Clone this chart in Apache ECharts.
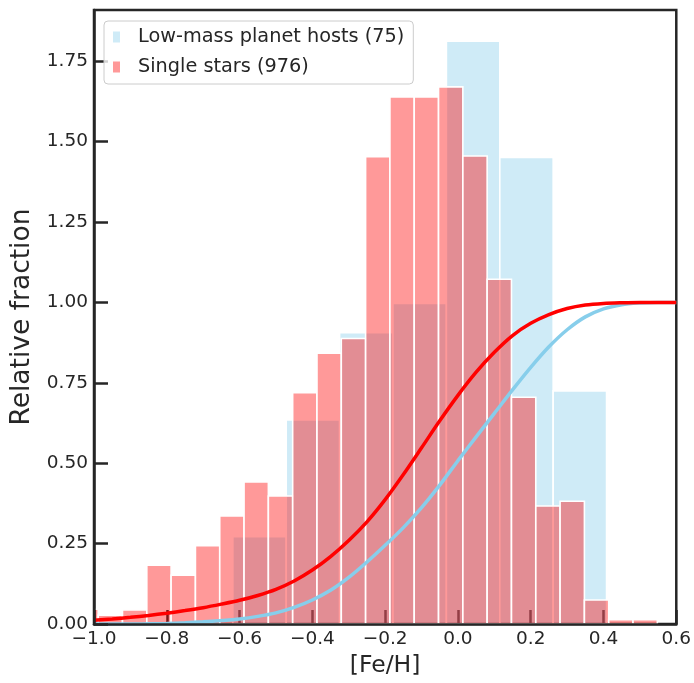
<!DOCTYPE html>
<html>
<head>
<meta charset="utf-8">
<script src="https://cdn.jsdelivr.net/npm/echarts@6/dist/echarts.min.js"></script>
<style>
html,body{margin:0;padding:0;background:#fff;}
#chart{width:694px;height:683px;}
</style>
</head>
<body>
<div id="chart"></div>
<script>
// ---- data ----
const seriesNames = ['Low-mass planet hosts (75)', 'Single stars (976)'];

// Low-mass planet hosts histogram (density)
const hostBinEdges = [-0.6185, -0.4718, -0.3251, -0.1784, -0.0317, 0.1150, 0.2617, 0.4084];
const hostHeights = [0.272, 0.635, 0.906, 0.997, 1.812, 1.451, 0.725];

// Single stars histogram (density)
const singleBinEdges = [-1.0553, -0.9885, -0.9217, -0.8549, -0.7881, -0.7213, -0.6545, -0.5877,
  -0.5209, -0.4541, -0.3873, -0.3205, -0.2537, -0.1869, -0.1201, -0.0533, 0.0135, 0.0803,
  0.1471, 0.2139, 0.2807, 0.3475, 0.4143, 0.4811, 0.5479];
const singleHeights = [0.046, 0.028, 0.044, 0.183, 0.152, 0.244, 0.336, 0.442, 0.398, 0.719,
  0.842, 0.888, 1.453, 1.639, 1.639, 1.670, 1.455, 1.072, 0.705, 0.367, 0.382, 0.075, 0.014, 0.014];

// cumulative curves
const cdfX = [-1.0, -0.95, -0.9, -0.85, -0.8, -0.75, -0.7, -0.65, -0.6, -0.55, -0.5, -0.45, -0.4,
  -0.35, -0.3, -0.25, -0.2, -0.15, -0.1, -0.05, 0.0, 0.05, 0.1, 0.15, 0.2, 0.25, 0.3, 0.35, 0.4,
  0.45, 0.5, 0.55, 0.6];
const singleCdf = [0.012, 0.016, 0.021, 0.027, 0.034, 0.042, 0.051, 0.062, 0.074, 0.089, 0.108,
  0.134, 0.168, 0.21, 0.26, 0.318, 0.387, 0.465, 0.548, 0.632, 0.711, 0.783, 0.845, 0.897, 0.935,
  0.962, 0.981, 0.992, 0.997, 0.999, 1.0, 1.0, 1.0];
const hostCdf = [0.0, 0.0, 0.0, 0.001, 0.002, 0.004, 0.007, 0.011, 0.016, 0.024, 0.035, 0.052,
  0.075, 0.105, 0.145, 0.193, 0.245, 0.30, 0.362, 0.432, 0.508, 0.582, 0.655, 0.728, 0.798, 0.862,
  0.915, 0.955, 0.98, 0.993, 0.998, 1.0, 1.0];

const xMin = -1.0, xMax = 0.6, xStep = 0.2;
const yMin = 0, yMax = 1.909, yStep = 0.25;
const xName = '[Fe/H]';
const yName = 'Relative fraction';

// ---- build ----
function binData(edges, heights) {
  return heights.map((h, i) => [edges[i], edges[i + 1], h]);
}
function pairs(xs, ys) { return xs.map((x, i) => [x, ys[i]]); }

const hostFill = 'rgba(135,206,235,0.4)';
const singleFill = 'rgba(255,0,0,0.4)';
const axisColor = '#262626';
const font = 'DejaVu Sans';

function makeRender(fill) {
  return function (params, api) {
    const x0 = api.value(0), x1 = api.value(1), h = api.value(2);
    const p0 = api.coord([x0, h]);
    const p1 = api.coord([x1, 0]);
    return {
      type: 'rect',
      shape: { x: p0[0], y: p0[1], width: p1[0] - p0[0], height: p1[1] - p0[1] },
      style: { fill: fill, stroke: '#ffffff', lineWidth: 1.6 }
    };
  };
}

const chart = echarts.init(document.getElementById('chart'), null, { renderer: 'canvas' });
const fmtX = v => { if (Math.abs(v) < 1e-9) v = 0; return v.toFixed(1).replace('-', '\u2212'); };

chart.setOption({
  animation: false,
  backgroundColor: '#ffffff',
  grid: { left: 94, right: 17, top: 10, bottom: 53, show: true, borderColor: axisColor, borderWidth: 2.5, containLabel: false },
  legend: {
    orient: 'vertical', left: 104, top: 21,
    padding: [6, 9, 7, 9], itemGap: 10,
    itemWidth: 7, itemHeight: 11,
    backgroundColor: 'rgba(255,255,255,0.8)', borderColor: '#cccccc', borderWidth: 1, borderRadius: 4,
    textStyle: { fontFamily: font, fontSize: 19.3, color: axisColor, lineHeight: 20, padding: [0, 0, 0, 13] },
    data: [
      { name: seriesNames[0], icon: 'rect', itemStyle: { color: hostFill, borderWidth: 0 } },
      { name: seriesNames[1], icon: 'rect', itemStyle: { color: singleFill, borderWidth: 0 } }
    ],
    z: 20
  },
  xAxis: [
    {
      type: 'value', position: 'bottom', min: xMin, max: xMax, interval: xStep,
      name: xName, nameLocation: 'middle', nameGap: 20,
      nameTextStyle: { fontFamily: font, fontSize: 23.5, color: axisColor },
      axisLine: { show: true, onZero: false, lineStyle: { color: axisColor, width: 2.5 } },
      axisTick: { show: false },
      axisLabel: { fontFamily: font, fontSize: 18.5, color: axisColor, margin: 6, formatter: fmtX },
      splitLine: { show: false }, z: 10
    },
    {
      type: 'value', position: 'bottom', min: xMin, max: xMax, interval: xStep,
      axisLine: { show: false, onZero: false },
      axisTick: { show: true, inside: true, length: 14, lineStyle: { color: axisColor, width: 2.5 } },
      axisLabel: { show: false }, splitLine: { show: false }, z: 0
    }
  ],
  yAxis: {
    type: 'value', min: yMin, max: yMax, interval: yStep,
    name: yName, nameLocation: 'middle', nameGap: 49, nameRotate: 90,
    nameTextStyle: { fontFamily: font, fontSize: 26.5, color: axisColor },
    axisLine: { show: true, onZero: false, lineStyle: { color: axisColor, width: 2.5 } },
    axisTick: { show: true, inside: true, length: 14, lineStyle: { color: axisColor, width: 2.5 } },
    axisLabel: { fontFamily: font, fontSize: 18.5, color: axisColor, margin: 6, showMaxLabel: false,
      formatter: v => v.toFixed(2) },
    splitLine: { show: false }, z: 10
  },
  series: [
    { name: seriesNames[0], type: 'custom', xAxisIndex: 0, clip: true, renderItem: makeRender(hostFill),
      data: binData(hostBinEdges, hostHeights), itemStyle: { color: hostFill }, z: 2 },
    { name: seriesNames[1], type: 'custom', xAxisIndex: 0, clip: true, renderItem: makeRender(singleFill),
      data: binData(singleBinEdges, singleHeights), itemStyle: { color: singleFill }, z: 3 },
    { name: 'hostCdf', type: 'line', xAxisIndex: 0, data: pairs(cdfX, hostCdf), smooth: 0.3,
      showSymbol: false,
      lineStyle: { color: '#87ceeb', width: 3.5 }, itemStyle: { color: '#87ceeb' }, z: 4 },
    { name: 'singleCdf', type: 'line', xAxisIndex: 0, data: pairs(cdfX, singleCdf), smooth: 0.3,
      showSymbol: false,
      lineStyle: { color: '#ff0000', width: 3.5 }, itemStyle: { color: '#ff0000' }, z: 5 }
  ]
});
</script>
</body>
</html>
